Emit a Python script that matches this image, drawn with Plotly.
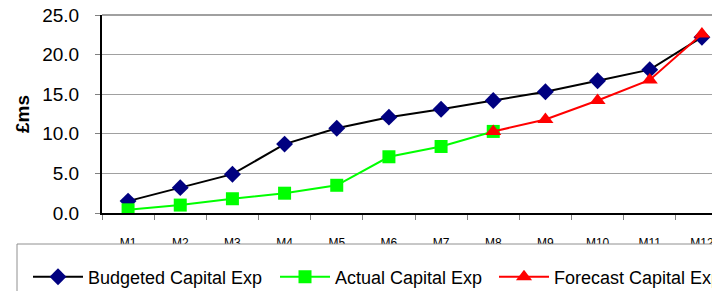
import plotly.graph_objects as go

months = ["M1", "M2", "M3", "M4", "M5", "M6", "M7", "M8", "M9", "M10", "M11", "M12"]
budgeted = [1.5, 3.2, 4.9, 8.7, 10.7, 12.1, 13.1, 14.2, 15.3, 16.7, 18.1, 22.2]
actual = [0.4, 1.0, 1.8, 2.5, 3.5, 7.1, 8.4, 10.3, None, None, None, None]
forecast = [None, None, None, None, None, None, None, 10.3, 11.8, 14.2, 16.8, 22.6]
y_ticks = [0, 5, 10, 15, 20, 25]
y_tick_text = ["0.0", "5.0", "10.0", "15.0", "20.0", "25.0"]

# the page body has an 8px margin, so figure pixels = page pixels - 8
OFF = 8
W, H = 720, 291
L, R, T = 102 - OFF, 0, 15 - OFF
BOTTOM = 213 - OFF
B = H - BOTTOM
pw, ph = W - L - R, H - T - B


def px_x(p):
    return (p - OFF - L) / pw


def px_y(p):
    return (BOTTOM - (p - OFF)) / ph


FONT = "Liberation Sans, Arial, sans-serif"

fig = go.Figure()
fig.add_trace(go.Scatter(
    x=months, y=budgeted, name="Budgeted Capital Exp", mode="lines+markers",
    line=dict(color="black", width=2),
    marker=dict(symbol="diamond", color="#000080", size=13),
    legend="legend",
))
fig.add_trace(go.Scatter(
    x=months, y=actual, name="Actual Capital Exp", mode="lines+markers",
    line=dict(color="#00FF00", width=2),
    marker=dict(symbol="square", color="#00FF00", size=13),
    legend="legend2",
))
fig.add_trace(go.Scatter(
    x=months, y=forecast, name="Forecast Capital Exp", mode="lines+markers",
    line=dict(color="#FF0000", width=2),
    marker=dict(symbol="triangle-up", color="#FF0000", size=14),
    legend="legend3",
))

# top border of the plot area (gridline at the top of the range)
fig.add_shape(type="line", xref="paper", yref="paper", x0=0, x1=1, y0=1, y1=1,
              line=dict(color="#a0a0a0", width=2), layer="below")

# legend frame (extends beyond the visible page, as in the reference)
fig.add_shape(type="rect", xref="paper", yref="paper",
              x0=px_x(17), x1=px_x(760), y0=px_y(244), y1=px_y(320),
              fillcolor="white", line=dict(color="#909090", width=1), layer="above")


def leg(xpix):
    return dict(
        orientation="h", x=px_x(xpix), xanchor="left", y=px_y(277), yanchor="middle",
        font=dict(size=18, family=FONT, color="black"),
        bgcolor="rgba(0,0,0,0)", borderwidth=0, itemwidth=50,
    )


fig.update_layout(
    width=W, height=H,
    margin=dict(l=L, r=R, t=T, b=B, autoexpand=False),
    paper_bgcolor="white", plot_bgcolor="white",
    font=dict(family=FONT, color="black"),
    showlegend=True,
    legend=leg(28),
    legend2=leg(275),
    legend3=leg(494),
    xaxis=dict(
        type="category", range=[-0.5, 11.5],
        showline=True, linecolor="black", linewidth=2,
        ticks="outside", tickson="boundaries", ticklen=5, tickcolor="#808080",
        tickfont=dict(size=12, family=FONT, color="black"),
        ticklabelstandoff=18, ticklabeloverflow="allow",
        showgrid=False, zeroline=False, fixedrange=True,
    ),
    yaxis=dict(
        range=[0, 25], tickvals=y_ticks, ticktext=y_tick_text,
        showline=True, linecolor="black", linewidth=2,
        ticks="outside", ticklen=5, tickcolor="#808080",
        tickfont=dict(size=19, family=FONT, color="black"),
        ticklabelstandoff=12, ticklabeloverflow="allow",
        showgrid=True, gridcolor="#a0a0a0", gridwidth=1,
        zeroline=False,
        title=dict(text="<b>£ms</b>", font=dict(size=19, family=FONT, color="black"), standoff=8),
    ),
)

fig.write_html("out.html")
